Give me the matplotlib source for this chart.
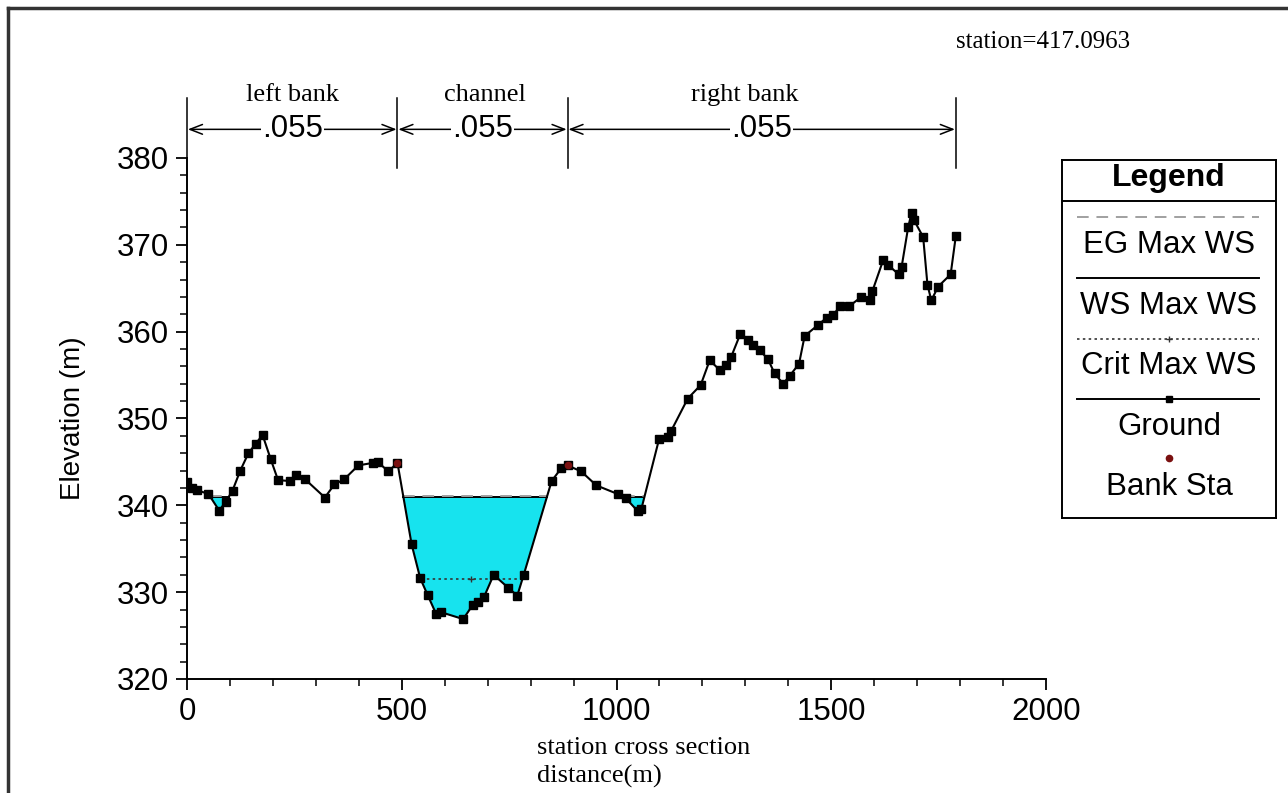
import numpy as np
import matplotlib
matplotlib.use("Agg")
import matplotlib.pyplot as plt
from matplotlib.ticker import MultipleLocator

SANS = ["Liberation Sans", "DejaVu Sans"]
SERIF = ["Liberation Serif", "DejaVu Serif"]

# --- data ---
station = [0, 12, 24, 50, 75, 90, 106, 124, 143, 160, 176, 195, 212, 240, 253, 275,
           321, 343, 366, 399, 434, 444, 469, 490, 523, 543, 560, 580, 591, 643, 665,
           677, 692, 714, 748, 769, 784, 849, 871, 886, 918, 953, 1003, 1022, 1050,
           1058, 1099, 1120, 1127, 1166, 1196, 1217, 1240, 1254, 1267, 1288, 1306,
           1318, 1333, 1353, 1368, 1388, 1403, 1425, 1438, 1470, 1489, 1504, 1521,
           1541, 1570, 1590, 1596, 1621, 1632, 1657, 1664, 1679, 1687, 1692, 1714,
           1724, 1733, 1749, 1778, 1790]
ground = [342.7, 342.0, 341.75, 341.3, 339.4, 340.4, 341.7, 344.0, 346.0, 347.1, 348.1,
          345.3, 342.9, 342.8, 343.5, 343.0, 340.9, 342.4, 343.0, 344.6, 344.9, 345.0,
          343.9, 344.9, 335.5, 331.6, 329.7, 327.5, 327.7, 326.9, 328.5, 328.9, 329.5,
          332.0, 330.5, 329.6, 332.0, 342.8, 344.25, 344.6, 343.9, 342.3, 341.3, 340.8,
          339.3, 339.6, 347.6, 347.9, 348.55, 352.3, 353.85, 356.7, 355.6, 356.2, 357.1,
          359.7, 359.0, 358.5, 357.9, 356.8, 355.2, 354.0, 354.9, 356.3, 359.5, 360.8,
          361.6, 361.9, 362.95, 362.9, 364.0, 363.6, 364.7, 368.25, 367.7, 366.6, 367.5,
          372.0, 373.7, 372.9, 370.9, 365.4, 363.6, 365.2, 366.6, 371.0]
bank_sta = [490, 886]
bank_elev = [344.9, 344.6]
ws_max = 341.0
eg_max = 341.05
crit_ws = 331.5
reach_bounds = [0, 490, 886, 1790]
reach_names = ["left bank", "channel", "right bank"]
name_shift = [0, 5, -40]
mannings_n = [".055", ".055", ".055"]
station_label = "station=417.0963"

x = np.array(station, float)
z = np.array(ground, float)

fig = plt.figure(figsize=(12.88, 7.93), dpi=100)
ax = fig.add_axes([187 / 1288, 114 / 793, 859 / 1288, 521 / 793])

# water fill
xf = np.linspace(x[0], x[-1], 8000)
zf = np.interp(xf, x, z)
wet = zf <= ws_max
ax.fill_between(xf, zf, ws_max, where=wet, color="#17E3EE", lw=0, zorder=1)

# water surface / EG lines over wet stretches
edges = np.flatnonzero(np.diff(np.r_[0, wet.astype(int), 0]))
for a, b in zip(edges[::2], edges[1::2]):
    ax.plot([xf[a], xf[b - 1]], [ws_max, ws_max], color="black", lw=1.4, zorder=3)
    ax.plot([xf[a], xf[b - 1]], [eg_max, eg_max], color="#a0a0a0", lw=1.4,
            ls=(0, (6, 4)), zorder=3)

# critical depth line across main channel
ch = (xf > bank_sta[0]) & (xf < bank_sta[1]) & (zf <= crit_ws)
cx = xf[ch]
ax.plot([cx.min(), cx.max()], [crit_ws, crit_ws], color="#333333", lw=1.2,
        ls=(0, (1.5, 2)), zorder=2)
ax.plot([(cx.min() + cx.max()) / 2], [crit_ws], marker="+", ms=4, color="#333333", zorder=2)

# ground
ax.plot(x, z, color="black", lw=1.5, marker="s", ms=5.2, zorder=4)
ax.plot(bank_sta, bank_elev, ls="none", marker="o", ms=4.5, color="#7a1010", zorder=5)

ax.set_xlim(0, 2000)
ax.set_ylim(320, 380)
ax.xaxis.set_major_locator(MultipleLocator(500))
ax.xaxis.set_minor_locator(MultipleLocator(100))
ax.yaxis.set_major_locator(MultipleLocator(10))
ax.yaxis.set_minor_locator(MultipleLocator(2))
ax.tick_params(which="major", length=8, width=1.3, labelsize=22.5, pad=5)
ax.tick_params(which="minor", length=5, width=1.1)
for lab in ax.get_xticklabels() + ax.get_yticklabels():
    lab.set_family(SANS)
for s in ["top", "right"]:
    ax.spines[s].set_visible(False)
for s in ["left", "bottom"]:
    ax.spines[s].set_linewidth(1.4)
ax.set_ylabel("Elevation (m)", fontsize=20, family=SANS, labelpad=22)
ax.text(0.408, -0.112, "station cross section\ndistance(m)", transform=ax.transAxes,
        fontsize=19, family=SERIF, va="top", ha="left", linespacing=1.3)

# reach boundaries and Manning's n
top, arr_y, lab_y = 386.9, 383.3, 386.0
for b in reach_bounds:
    ax.plot([b, b], [arr_y - 4.5 if b else 380, top], color="black", lw=1.1, clip_on=False)
for i, name in enumerate(reach_names):
    a, b = reach_bounds[i], reach_bounds[i + 1]
    ax.annotate("", xy=(a + 2, arr_y), xytext=(b - 2, arr_y), annotation_clip=False,
                arrowprops=dict(arrowstyle="<->,head_length=0.9,head_width=0.35",
                                color="black", lw=1.1, shrinkA=0, shrinkB=0))
    ax.text((a + b) / 2, arr_y, mannings_n[i], fontsize=22.5, family=SANS, ha="center",
            va="center", bbox=dict(facecolor="white", edgecolor="none", pad=1))
    ax.text((a + b) / 2 + name_shift[i], lab_y, name, fontsize=19, family=SERIF,
            ha="center", va="bottom", clip_on=False)

fig.text(1043 / 1288, 1 - 42 / 793, station_label, fontsize=18, family=SERIF,
         ha="center", va="center")

# hand-drawn legend box
lg = fig.add_axes([1062 / 1288, 1 - 518 / 793, 214 / 1288, 358 / 793])
lg.set_xlim(0, 214)
lg.set_ylim(358, 0)
lg.set_xticks([])
lg.set_yticks([])
for s in lg.spines.values():
    s.set_linewidth(1.4)
lg.axhline(41, color="black", lw=1.4)
lg.text(107, 18, "Legend", fontsize=23, weight="bold", family=SANS, ha="center", va="center")
lx = [15, 197]
fs = 22.5
lg.plot(lx, [57, 57], color="#a0a0a0", lw=1.4, ls=(0, (6, 4)))
lg.text(107, 85, "EG Max WS", fontsize=fs, family=SANS, ha="center", va="center")
lg.plot(lx, [118, 118], color="black", lw=1.4)
lg.text(107, 146, "WS Max WS", fontsize=fs, family=SANS, ha="center", va="center")
lg.plot(lx, [179, 179], color="#333333", lw=1.2, ls=(0, (1.5, 2)))
lg.plot([107], [179], marker="+", ms=4, color="#333333")
lg.text(107, 206, "Crit Max WS", fontsize=fs, family=SANS, ha="center", va="center")
lg.plot(lx, [239, 239], color="black", lw=1.4)
lg.plot([107], [239], marker="s", ms=5, color="black")
lg.text(107, 267, "Ground", fontsize=fs, family=SANS, ha="center", va="center")
lg.plot([107], [298], marker="o", ms=4.5, color="#7a1010")
lg.text(107, 327, "Bank Sta", fontsize=fs, family=SANS, ha="center", va="center")

# outer frame of the source figure
fig.add_artist(plt.Line2D([8 / 1288, 1], [1 - 8 / 793] * 2, color="#333333", lw=2.5))
fig.add_artist(plt.Line2D([8 / 1288] * 2, [0, 1 - 8 / 793], color="#333333", lw=2.5))

fig.savefig("out.png", dpi=100)
